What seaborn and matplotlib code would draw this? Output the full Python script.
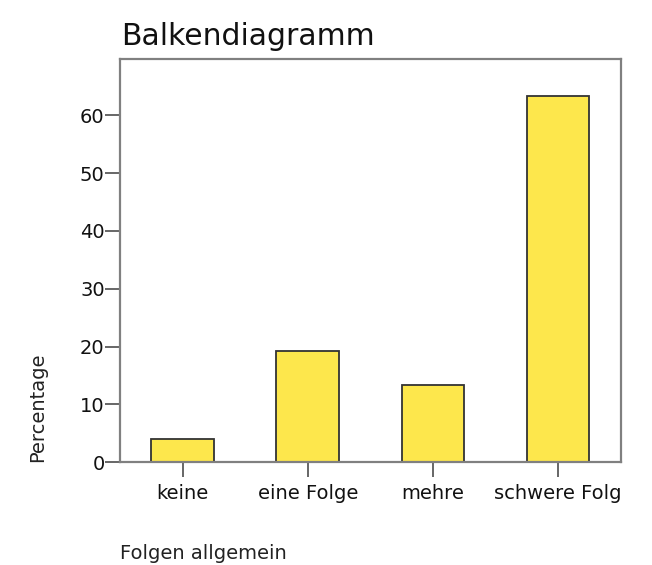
import matplotlib.pyplot as plt
import matplotlib
import pandas as pd
import seaborn as sns

sns.set_style('white')
matplotlib.rcParams['font.family'] = ['DejaVu Sans']

categories = ['keine', 'eine Folge', 'mehre', 'schwere Folg']
percent = [4.0, 19.3, 13.3, 63.3]
yticks = [0, 10, 20, 30, 40, 50, 60]

df = pd.DataFrame({'cat': categories, 'pct': percent})

fig = plt.figure(figsize=(6.52, 5.65), dpi=100)
ax = fig.add_axes([0.184, 0.182, 0.768, 0.714])

sns.barplot(data=df, x='cat', y='pct', ax=ax, color='#fde74c', width=0.5,
            edgecolor='#333333', linewidth=1.3, saturation=1)

ax.set_xlim(-0.5, 3.5)
ax.set_ylim(0, 69.8)
ax.set_yticks(yticks)
for s in ax.spines.values():
    s.set_color('#808080')
    s.set_linewidth(1.6)
ax.tick_params(axis='both', direction='out', length=11, width=1.4, color='#666666',
               labelsize=14, labelcolor='#111111', left=True, bottom=True)
ax.tick_params(axis='x', pad=5)
ax.tick_params(axis='y', pad=0)
ax.set_xlabel('')
ax.set_ylabel('')

fig.text(0.186, 0.921, 'Balkendiagramm', fontsize=21.5, ha='left', va='baseline', color='#111111')
fig.text(0.058, 0.182, 'Percentage', fontsize=14, rotation=90, ha='center', va='bottom', color='#222222')
fig.text(0.184, 0.011, 'Folgen allgemein', fontsize=14, ha='left', va='baseline', color='#222222')

plt.savefig('out.png', dpi=100)
plt.close()
